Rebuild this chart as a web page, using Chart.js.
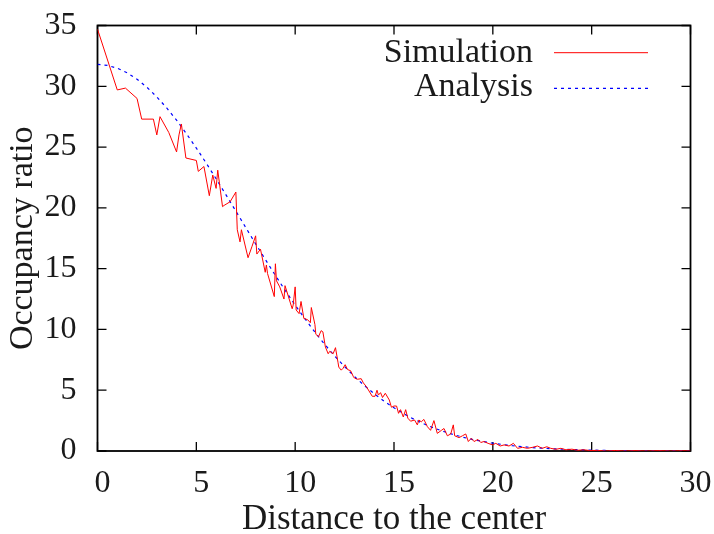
<!DOCTYPE html>
<html>
<head>
<meta charset="utf-8">
<script src="https://cdn.jsdelivr.net/npm/chart.js@4/dist/chart.umd.min.js"></script>
<style>
  html, body { margin: 0; padding: 0; background: #fff; }
  canvas { display: block; }
</style>
</head>
<body>
<canvas id="c" width="714" height="534"></canvas>
<script>
// ---- data ----
const simLabel = "Simulation";
const anaLabel = "Analysis";

const simX = [0, 1, 1.414, 2, 2.236, 2.828, 3, 3.162, 3.606, 4, 4.123, 4.243, 4.472, 5, 5.099, 5.385,
  5.657, 5.831, 6, 6.083, 6.325, 6.403, 6.708, 7, 7.071, 7.211, 7.28, 7.616, 7.81, 8, 8.062, 8.246,
  8.485, 8.544, 8.602, 8.944, 9, 9.055, 9.22, 9.434, 9.487, 9.849, 9.899, 10, 10.05, 10.198, 10.296,
  10.44, 10.63, 10.77, 10.817, 11, 11.045, 11.18, 11.314, 11.402, 11.53, 11.67, 11.75, 11.92, 12.04,
  12.166, 12.207, 12.33, 12.42, 12.53, 12.65, 12.806, 12.95, 13.0, 13.15, 13.34, 13.45, 13.6, 13.9,
  14.04, 14.14, 14.21, 14.32, 14.42, 14.56, 14.76, 14.87, 15.0, 15.13, 15.23, 15.33, 15.47, 15.59,
  15.7, 15.84, 16.04, 16.18, 16.26, 16.38, 16.51, 16.69, 16.85, 17.02, 17.19, 17.4, 17.53, 17.7,
  17.87, 18.0, 18.07, 18.29, 18.46, 18.63, 18.76, 18.91, 19.05, 19.25, 19.39, 19.55, 19.76, 19.98,
  20.15, 20.37, 20.57, 20.82, 21.04, 21.25, 21.5, 21.75, 22.0, 22.26, 22.5, 22.73, 22.93, 23.19,
  23.44, 23.7, 24.0, 24.3, 24.6, 24.9, 25.3, 25.7, 26.2, 26.7, 27.2, 27.8, 28.4, 29.0, 29.6, 30];
const simY = [34.7, 29.7, 29.85, 29.0, 27.3, 27.3, 26.0, 27.5, 26.2, 24.6, 26.0, 26.9, 24.1, 23.9, 23.0, 23.4,
  21.0, 22.7, 21.6, 23.1, 20.1, 20.2, 20.5, 21.3, 18.2, 17.2, 18.2, 15.9, 16.8, 17.7, 16.2, 16.6,
  14.7, 15.3, 14.6, 12.7, 15.4, 14.0, 13.5, 12.5, 13.6, 11.7, 12.0, 13.5, 11.6, 11.3, 12.3,
  10.9, 10.8, 10.55, 11.8, 10.4, 9.6, 9.4, 9.9, 9.8, 8.55, 8.0, 8.2, 8.0, 8.5,
  7.3, 6.9, 6.65, 6.8, 7.1, 6.7, 6.6, 6.1, 6.0, 5.9, 5.95, 5.6, 5.3, 4.5,
  4.5, 5.0, 4.6, 4.8, 4.4, 4.75, 4.2, 3.6, 3.7, 3.7, 3.1, 3.4, 2.8, 3.4,
  2.7, 2.45, 2.55, 2.15, 2.55, 2.4, 2.6, 2.0, 1.7, 2.5, 1.45, 1.7, 1.85, 1.25,
  1.4, 2.15, 1.25, 1.1, 1.25, 1.4, 0.78, 1.05, 0.78, 0.95, 0.7, 0.78, 0.63, 0.5,
  0.63, 0.41, 0.5, 0.41, 0.63, 0.22, 0.3, 0.22, 0.3, 0.41, 0.22, 0.35, 0.22, 0.14,
  0.22, 0.1, 0.15, 0.06, 0.1, 0.04, 0.05, 0.0, 0.04, 0.0, 0.03, 0.0, 0.03, 0.0, 0.02, 0.0];

const anaX = [0, 0.5, 1, 1.5, 2, 2.5, 3, 3.5, 4, 4.5, 5, 5.5, 6, 6.5, 7, 7.5, 8, 8.5, 9, 9.5, 10,
  10.5, 11, 11.5, 12, 12.5, 13, 13.5, 14, 14.5, 15, 15.5, 16, 16.5, 17, 17.5, 18, 18.5, 19, 19.5, 20,
  21, 22, 23, 24, 25, 26, 27, 28, 29, 30];
const anaY = [31.8, 31.72, 31.49, 31.11, 30.58, 29.92, 29.13, 28.22, 27.21, 26.10, 24.92, 23.68, 22.39,
  21.07, 19.73, 18.38, 17.04, 15.73, 14.44, 13.20, 12.00, 10.86, 9.78, 8.76, 7.81, 6.94, 6.13, 5.38,
  4.71, 4.10, 3.55, 3.06, 2.62, 2.24, 1.90, 1.61, 1.35, 1.13, 0.94, 0.78, 0.64,
  0.43, 0.28, 0.18, 0.12, 0.07, 0.04, 0.02, 0.01, 0.01, 0.0];

const xTickValues = [0, 5, 10, 15, 20, 25, 30];
const yTickValues = [0, 5, 10, 15, 20, 25, 30, 35];
const xTitle = "Distance to the center";
const yTitle = "Occupancy ratio";

// ---- chart ----
const FONT = "'Liberation Serif', 'Times New Roman', serif";
const INK = "#1a1a1a";

function zeroPad(s) { s.paddingLeft = 0; s.paddingRight = 0; s.paddingTop = 0; s.paddingBottom = 0; }

const framePlugin = {
  id: 'frame',
  beforeDatasetsDraw(chart) {
    const {ctx, chartArea: a, scales} = chart;
    ctx.save();
    ctx.strokeStyle = '#000';
    ctx.lineWidth = 1.3;
    const tl = 9;
    ctx.beginPath();
    xTickValues.forEach(v => {
      const px = scales.x.getPixelForValue(v);
      ctx.moveTo(px, a.bottom); ctx.lineTo(px, a.bottom - tl);
      ctx.moveTo(px, a.top); ctx.lineTo(px, a.top + tl);
    });
    yTickValues.forEach(v => {
      const py = scales.y.getPixelForValue(v);
      ctx.moveTo(a.left, py); ctx.lineTo(a.left + tl, py);
      ctx.moveTo(a.right, py); ctx.lineTo(a.right - tl, py);
    });
    ctx.stroke();
    ctx.lineWidth = 1.8;
    ctx.strokeRect(a.left, a.top, a.right - a.left, a.bottom - a.top);
    ctx.restore();
  },
  afterDraw(chart) {
    const {ctx} = chart;
    ctx.save();
    ctx.font = "34px " + FONT;
    ctx.fillStyle = INK;
    ctx.textAlign = 'right';
    ctx.textBaseline = 'alphabetic';
    const rows = [{y: 61.5, line: 52.7}, {y: 96, line: 88.3}];
    chart.data.datasets.forEach((ds, i) => {
      const r = rows[i];
      ctx.fillText(ds.label, 533, r.y);
      ctx.beginPath();
      ctx.strokeStyle = ds.borderColor;
      ctx.lineWidth = ds.borderWidth;
      ctx.setLineDash(ds.borderDash || []);
      ctx.moveTo(554, r.line); ctx.lineTo(648, r.line);
      ctx.stroke();
    });
    ctx.restore();
  }
};

new Chart(document.getElementById('c'), {
  type: 'line',
  data: {
    datasets: [
      {
        label: simLabel,
        data: simX.map((x, i) => ({x: x, y: simY[i]})),
        borderColor: '#ff0000',
        borderWidth: 1,
        pointRadius: 0,
        tension: 0,
        fill: false
      },
      {
        label: anaLabel,
        data: anaX.map((x, i) => ({x: x, y: anaY[i]})),
        borderColor: '#0000ff',
        borderWidth: 1.2,
        borderDash: [3, 4],
        pointRadius: 0,
        tension: 0,
        fill: false
      }
    ]
  },
  options: {
    responsive: false,
    animation: false,
    devicePixelRatio: 1,
    layout: { padding: { left: 0, right: 23.5, top: 25.5, bottom: 0 } },
    plugins: { legend: { display: false }, tooltip: { enabled: false } },
    scales: {
      x: {
        type: 'linear',
        min: 0, max: 30,
        afterBuildTicks: s => { s.ticks = xTickValues.map(v => ({value: v})); },
        afterFit: s => { s.height = 83; zeroPad(s); },
        grid: { display: false, drawTicks: false },
        border: { display: false },
        ticks: {
          color: INK,
          font: { family: FONT, size: 32, lineHeight: 1 },
          padding: 17,
          labelOffset: 5,
          maxRotation: 0
        },
        title: {
          display: true,
          text: xTitle,
          color: INK,
          font: { family: FONT, size: 35, lineHeight: 0.8 },
          padding: { top: 0, bottom: 0 }
        }
      },
      y: {
        type: 'linear',
        min: 0, max: 35,
        afterBuildTicks: s => { s.ticks = yTickValues.map(v => ({value: v})); },
        afterFit: s => { s.width = 97.5; zeroPad(s); },
        grid: { display: false, drawTicks: false },
        border: { display: false },
        ticks: {
          color: INK,
          font: { family: FONT, size: 32, lineHeight: 1 },
          padding: 21
        },
        title: {
          display: true,
          text: yTitle,
          color: INK,
          font: { family: FONT, size: 34, lineHeight: 1 },
          padding: { top: 6.5, bottom: 0 }
        }
      }
    }
  },
  plugins: [framePlugin]
});
</script>
</body>
</html>
